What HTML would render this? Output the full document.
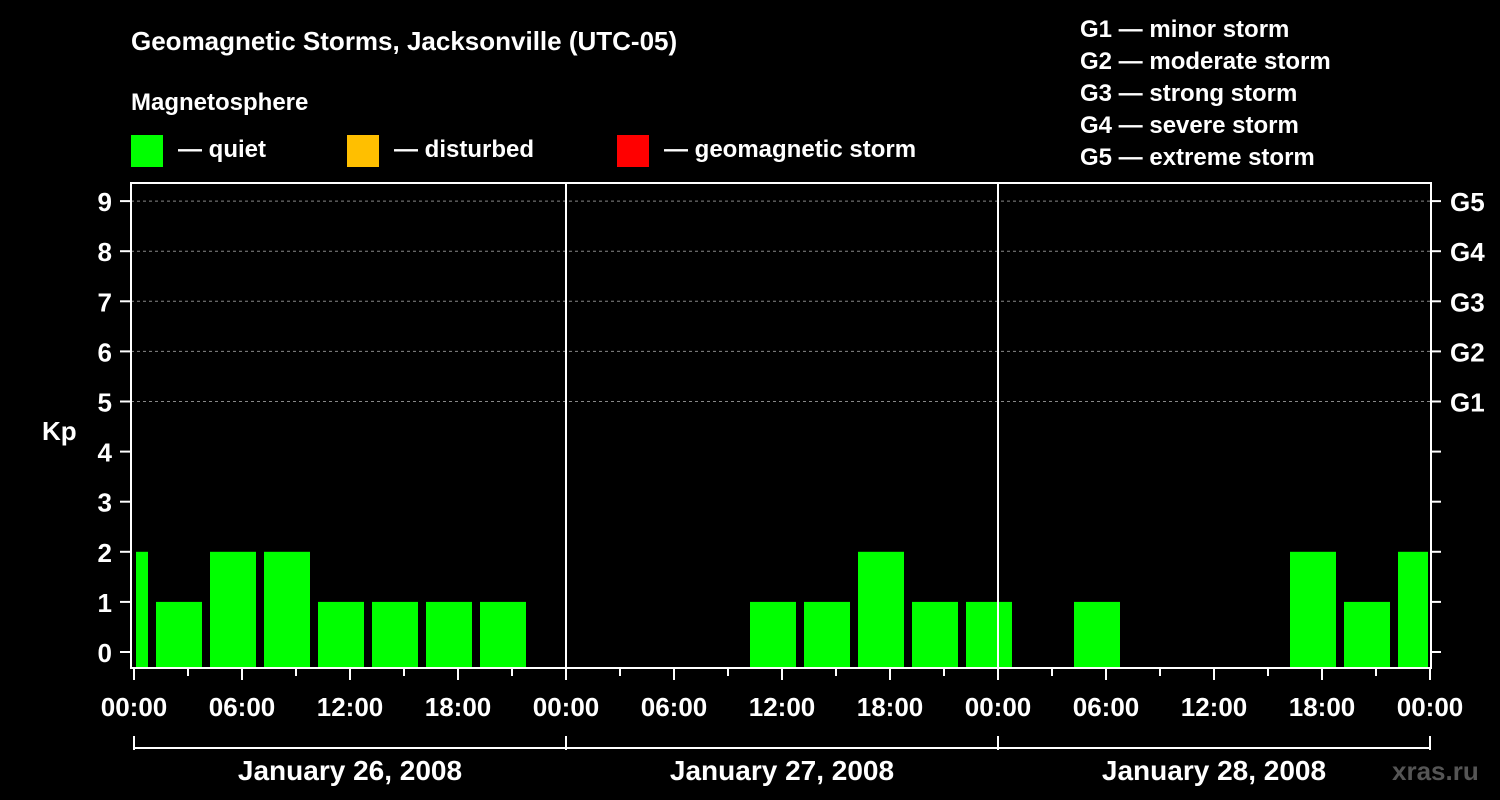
<!DOCTYPE html>
<html><head><meta charset="utf-8"><style>
body{margin:0;background:#000;}
svg{display:block;font-family:"Liberation Sans",Arial,sans-serif;font-weight:bold;}
</style></head><body>
<svg id="chart" width="1500" height="800" viewBox="0 0 1500 800">
<rect width="1500" height="800" fill="#000"/>
<text x="131" y="50" fill="#fff" font-size="26">Geomagnetic Storms, Jacksonville (UTC-05)</text>
<text x="131" y="110" fill="#fff" font-size="24">Magnetosphere</text>
<g><rect x="131" y="135" width="32" height="32" fill="#00ff00"/><text x="178" y="157" fill="#fff" font-size="24">— quiet</text></g>
<g><rect x="347" y="135" width="32" height="32" fill="#ffbf00"/><text x="394" y="157" fill="#fff" font-size="24">— disturbed</text></g>
<g><rect x="617" y="135" width="32" height="32" fill="#ff0000"/><text x="664" y="157" fill="#fff" font-size="24">— geomagnetic storm</text></g>
<g fill="#fff" font-size="24">
<text x="1080" y="37">G1 — minor storm</text>
<text x="1080" y="69">G2 — moderate storm</text>
<text x="1080" y="101">G3 — strong storm</text>
<text x="1080" y="133">G4 — severe storm</text>
<text x="1080" y="165">G5 — extreme storm</text>
</g>
<text x="42" y="440" fill="#fff" font-size="26">Kp</text>
<g id="plot"></g>
<text x="1392" y="780" fill="#555" font-size="26">xras.ru</text>
</svg>
<script>
const kpValues=[2,1,2,2,1,1,1,1,0,0,0,0,1,1,2,1,1,0,1,0,0,0,2,1,2];
const slotStartHours=[-2,1,4,7,10,13,16,19,22,25,28,31,34,37,40,43,46,49,52,55,58,61,64,67,70];
const yTicks=[0,1,2,3,4,5,6,7,8,9];
const gLabels=["G1","G2","G3","G4","G5"];
const gLevels=[5,6,7,8,9];
const xTickLabels=["00:00","06:00","12:00","18:00","00:00","06:00","12:00","18:00","00:00","06:00","12:00","18:00","00:00"];
const dayLabels=["January 26, 2008","January 27, 2008","January 28, 2008"];
const NS="http://www.w3.org/2000/svg";
const L=131,R=1431,T=183,B=668;
const x=h=>134+h*18;
const y=k=>652-k*50.1;
const g=document.getElementById('plot');
function mk(tag,a,txt){const e=document.createElementNS(NS,tag);for(const k in a)e.setAttribute(k,a[k]);if(txt!==undefined)e.textContent=txt;g.appendChild(e);return e;}
// grid
gLevels.forEach((k,i)=>{
 const l=mk('line',{x1:L,x2:R,y1:y(k),y2:y(k),stroke:'#888','stroke-dasharray':'3,3'});
 
 
 const t=mk('text',{x:1450,y:y(k)+10,fill:'#fff','font-size':26},gLabels[i]);
 
 
});
// bars
kpValues.forEach((v,i)=>{
 if(v<=0)return;
 let x0=Math.max(x(slotStartHours[i])+4,136),x1=Math.min(x(slotStartHours[i]+3)-4,1428);
 const r=mk('rect',{x:x0,y:y(v),width:x1-x0,height:B-y(v),fill:'#00ff00'});
 
 
});
// frame
mk('rect',{x:L,y:T,width:R-L,height:B-T,fill:'none',stroke:'#fff','stroke-width':2});
[1,2].forEach(d=>{const l=mk('line',{x1:x(24*d),x2:x(24*d),y1:T,y2:B,stroke:'#fff','stroke-width':2});
 
 });
yTicks.forEach(k=>{
 mk('line',{x1:120,x2:L,y1:y(k),y2:y(k),stroke:'#fff','stroke-width':2});
 mk('line',{x1:R,x2:1441,y1:y(k),y2:y(k),stroke:'#fff','stroke-width':2});
 const t=mk('text',{x:112,y:y(k)+10,fill:'#fff','font-size':26,'text-anchor':'end'},String(k));
 
 
});
for(let h=0;h<=72;h+=3){mk('line',{x1:x(h),x2:x(h),y1:B,y2:B+(h%6?8:12),stroke:'#fff','stroke-width':2});}
xTickLabels.forEach((s,i)=>{const t=mk('text',{x:x(i*6),y:716,fill:'#fff','font-size':26,'text-anchor':'middle'},s);
 
 });
mk('line',{x1:x(0),x2:x(72),y1:748,y2:748,stroke:'#fff','stroke-width':2});
for(let d=0;d<=3;d++)mk('line',{x1:x(24*d),x2:x(24*d),y1:736,y2:750,stroke:'#fff','stroke-width':2});
dayLabels.forEach((s,i)=>{const t=mk('text',{x:x(24*i+12),y:780,fill:'#fff','font-size':28,'text-anchor':'middle'},s);
 
 });
</script>
</body></html>
